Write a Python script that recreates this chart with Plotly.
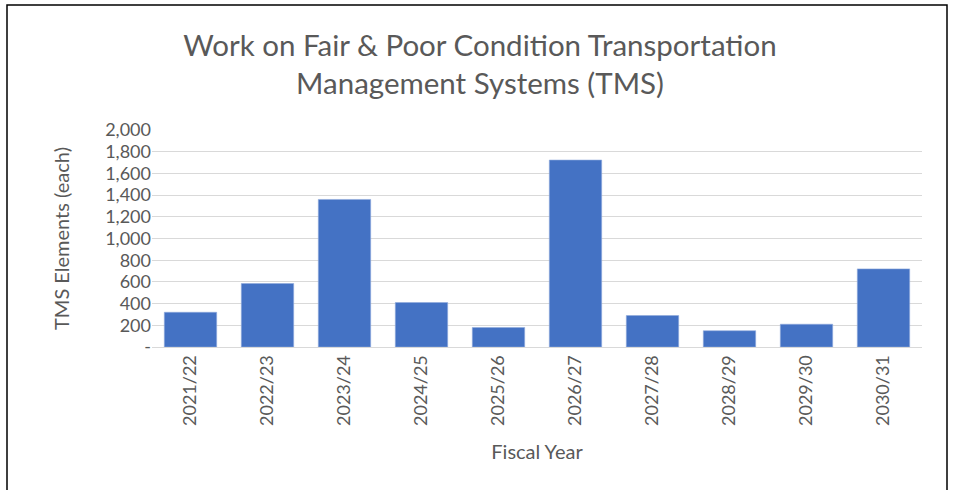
import plotly.graph_objects as go

years = ["2021/22", "2022/23", "2023/24", "2024/25", "2025/26",
         "2026/27", "2027/28", "2028/29", "2029/30", "2030/31"]
elements = [320, 585, 1360, 410, 180, 1723, 290, 150, 210, 720]
y_tickvals = [0, 200, 400, 600, 800, 1000, 1200, 1400, 1600, 1800, 2000]
y_ticktext = ["-", "200", "400", "600", "800", "1,000", "1,200", "1,400", "1,600", "1,800", "2,000"]

grey = "#595959"
font_family = "Lato, Open Sans, sans-serif"

fig = go.Figure()
fig.add_trace(go.Bar(
    x=years, y=elements,
    marker=dict(color="#4472C4", line=dict(color="#8FAADC", width=0.6)),
))

fig.update_layout(
    width=957, height=490,
    margin=dict(l=152, r=35, t=130, b=143),
    paper_bgcolor="white", plot_bgcolor="white",
    bargap=0.32,
    showlegend=False,
    font=dict(family=font_family, color=grey, size=18),
    title=dict(
        text="Work on Fair &amp; Poor Condition Transportation<br>Management Systems (TMS)",
        x=480 / 957, xref="container", xanchor="center",
        y=1 - 56 / 490, yref="container", yanchor="middle",
        font=dict(size=29.5, color=grey, family=font_family),
    ),
    xaxis=dict(
        tickangle=-90,
        tickfont=dict(size=18, color=grey),
        showgrid=False,
        showline=True, linecolor="#d9d9d9", linewidth=1,
        ticks="",
        title=dict(text="Fiscal Year", font=dict(size=20, color=grey), standoff=20),
    ),
    yaxis=dict(
        range=[0, 2000],
        tickvals=y_tickvals, ticktext=y_ticktext,
        tickfont=dict(size=18, color=grey),
        showgrid=True, gridcolor="#d9d9d9", gridwidth=1,
        zeroline=False,
        ticks="",
        title=dict(text="TMS Elements (each)", font=dict(size=20, color=grey), standoff=30),
    ),
    shapes=[dict(
        type="rect", xref="paper", yref="paper",
        x0=(7 - 152) / 770, x1=(947 - 152) / 770,
        y0=(347 - 500) / 217, y1=(347 - 5) / 217,
        line=dict(color="black", width=1.5), fillcolor="rgba(0,0,0,0)",
        layer="below",
    )],
)

fig.write_html("out.html", config={"displayModeBar": False},
               post_script="document.body.style.margin='0';")
